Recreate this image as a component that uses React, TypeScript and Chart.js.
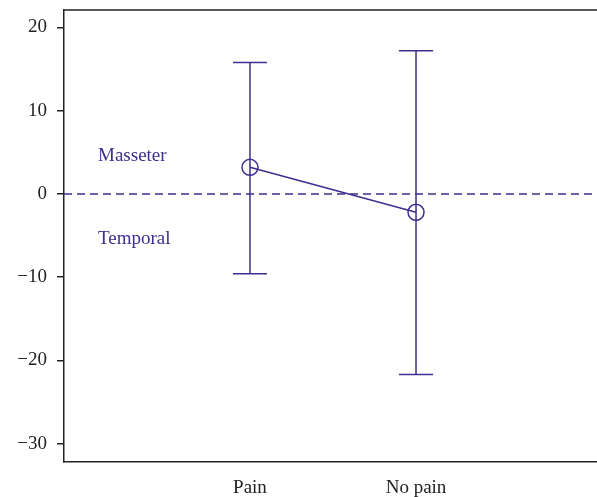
import React, { useEffect, useRef } from "react";
import { Chart, registerables } from "chart.js";

Chart.register(...registerables);

const categories = ["Pain", "No pain"];
const means = [3.2, -2.2];
const upperCI = [15.8, 17.2];
const lowerCI = [-9.6, -21.7];
const yTicks = [-30, -20, -10, 0, 10, 20];
const regionLabels = ["Masseter", "Temporal"];
const regionLabelY = [4.5, -5.4];

const PURPLE = "#3b2f8f";
const INK = "#222222";
const FONT = "'Liberation Serif', 'DejaVu Serif', serif";

export default function App() {
  const ref = useRef<HTMLCanvasElement | null>(null);

  useEffect(() => {
    if (!ref.current) return;
    const overlay = {
      id: "overlay",
      beforeDatasetsDraw(chart: any) {
        const { ctx, chartArea } = chart;
        const xs = chart.scales.x;
        const ys = chart.scales.y;
        ctx.save();
        ctx.strokeStyle = PURPLE;
        ctx.lineWidth = 1.5;
        ctx.setLineDash([8, 5]);
        const y0 = ys.getPixelForValue(0);
        ctx.beginPath();
        ctx.moveTo(chartArea.left, y0);
        ctx.lineTo(chartArea.right, y0);
        ctx.stroke();
        ctx.setLineDash([]);
        ctx.lineWidth = 1.5;
        categories.forEach((_, i) => {
          const x = xs.getPixelForValue(i + 1);
          const yt = ys.getPixelForValue(upperCI[i]);
          const yb = ys.getPixelForValue(lowerCI[i]);
          ctx.beginPath();
          ctx.moveTo(x, yt);
          ctx.lineTo(x, yb);
          ctx.moveTo(x - 17, yt);
          ctx.lineTo(x + 17, yt);
          ctx.moveTo(x - 17, yb);
          ctx.lineTo(x + 17, yb);
          ctx.stroke();
        });
        ctx.strokeStyle = INK;
        ctx.lineWidth = 1.5;
        ctx.beginPath();
        ctx.moveTo(chartArea.left, chartArea.top);
        ctx.lineTo(chartArea.right, chartArea.top);
        ctx.stroke();
        ctx.fillStyle = PURPLE;
        ctx.font = `19px ${FONT}`;
        ctx.textAlign = "left";
        ctx.textBaseline = "middle";
        regionLabels.forEach((t, i) => {
          ctx.fillText(t, xs.getPixelForValue(0.085), ys.getPixelForValue(regionLabelY[i]));
        });
        ctx.restore();
      },
    };

    const chart = new Chart(ref.current, {
      type: "scatter",
      data: {
        datasets: [
          {
            data: means.map((m, i) => ({ x: i + 1, y: m })),
            showLine: true,
            borderColor: PURPLE,
            borderWidth: 1.5,
            pointRadius: 8,
            pointBorderWidth: 1.5,
            pointBorderColor: PURPLE,
            pointBackgroundColor: "rgba(0,0,0,0)",
          },
        ],
      },
      options: {
        responsive: false,
        animation: false,
        layout: { autoPadding: false, padding: { top: 10, right: 0, left: 0, bottom: 0 } },
        plugins: { legend: { display: false }, tooltip: { enabled: false } },
        scales: {
          x: {
            type: "linear",
            min: -0.12,
            max: 3.09,
            afterBuildTicks: (s: any) => {
              s.ticks = categories.map((_, i) => ({ value: i + 1 }));
            },
            afterFit: (s: any) => {
              s.height = 35;
              s.paddingLeft = 0;
              s.paddingRight = 0;
            },
            ticks: {
              callback: (v: any) => categories[Number(v) - 1] ?? "",
              color: INK,
              font: { family: FONT, size: 19 },
              padding: 15,
              maxRotation: 0,
              autoSkip: false,
            },
            grid: { display: false, drawTicks: false },
            border: { display: true, color: INK, width: 1.5 },
          },
          y: {
            min: -32.2,
            max: 22.1,
            afterBuildTicks: (s: any) => {
              s.ticks = yTicks.map((v) => ({ value: v }));
            },
            afterFit: (s: any) => {
              s.width = 64;
              s.paddingTop = 0;
              s.paddingBottom = 0;
            },
            ticks: {
              callback: (v: any) => (Number(v) < 0 ? "\u2212" + Math.abs(Number(v)) : String(v)),
              color: INK,
              font: { family: FONT, size: 19 },
              padding: 10,
            },
            grid: { drawOnChartArea: false, drawTicks: true, tickLength: 7, color: INK, lineWidth: 1.5 },
            border: { display: true, color: INK, width: 1.5 },
          },
        },
      },
      plugins: [overlay],
    });
    return () => chart.destroy();
  }, []);

  return (
    <div style={{ position: "absolute", left: 0, top: 0, width: 597, height: 497, background: "#fff" }}>
      <canvas ref={ref} width={597} height={497} style={{ width: 597, height: 497 }} />
    </div>
  );
}
